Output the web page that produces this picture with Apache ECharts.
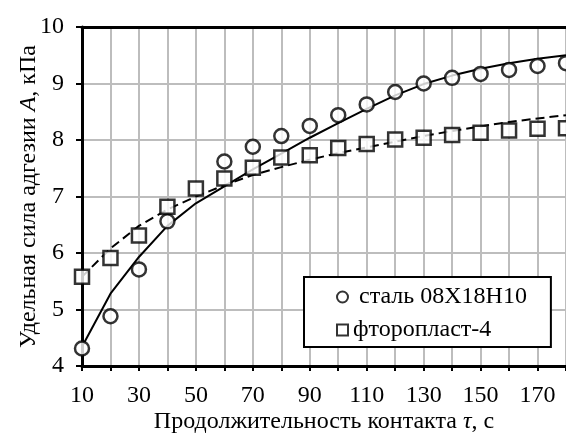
<!DOCTYPE html>
<html>
<head>
<meta charset="utf-8">
<script src="https://cdn.jsdelivr.net/npm/echarts@6/dist/echarts.min.js"></script>
<style>
  html, body { margin: 0; padding: 0; background: #fff; }
  #chart { width: 566px; height: 442px; }
</style>
</head>
<body>
<div id="chart"></div>
<script>
// время контакта, с
var tau = [10, 20, 30, 40, 50, 60, 70, 80, 90, 100, 110, 120, 130, 140, 150, 160, 170, 180];
// экспериментальные точки
var steel = [4.31, 4.88, 5.71, 6.56, null, 7.62, 7.88, 8.07, 8.25, 8.44, 8.63, 8.85, 9.0, 9.1, 9.17, 9.24, 9.31, 9.36];
var fluoro = [5.58, 5.91, 6.31, 6.82, 7.14, 7.32, 7.51, 7.69, 7.73, 7.86, 7.93, 8.01, 8.04, 8.09, 8.13, 8.17, 8.2, 8.21];
// аппроксимирующие кривые
var steelFit = [4.34, 5.28, 5.93, 6.48, 6.88, 7.18, 7.48, 7.76, 8.04, 8.3, 8.55, 8.79, 8.99, 9.14, 9.26, 9.36, 9.44, 9.5];
var fluoroFit = [5.58, 6.08, 6.48, 6.77, 7.0, 7.2, 7.38, 7.52, 7.65, 7.77, 7.87, 7.97, 8.07, 8.16, 8.24, 8.32, 8.38, 8.44];
var yTicks = [4, 5, 6, 7, 8, 9, 10];

var steelName = 'сталь 08Х18Н10';
var fluoroName = 'фторопласт-4';

function pairs(xs, ys) {
  var out = [];
  for (var i = 0; i < xs.length; i++) {
    if (ys[i] != null) out.push([xs[i], ys[i]]);
  }
  return out;
}

var font = 'Liberation Serif';
var fs = 24;
var myChart = echarts.init(document.getElementById('chart'));

var option = {
  animation: false,
  textStyle: { fontFamily: font },
  grid: { left: 82, top: 27, right: 0, bottom: 76, outerBoundsMode: 'none', containLabel: false },
  legend: {
    orient: 'vertical',
    left: 304,
    top: 277,
    padding: [8, 24, 5, 32],
    itemGap: 9,
    itemWidth: 11,
    itemHeight: 11,
    borderColor: '#000',
    borderWidth: 2,
    backgroundColor: '#fff',
    data: [steelName, fluoroName],
    formatter: function (n) { return n === steelName ? ' ' + n : n; },
    textStyle: { fontFamily: font, fontSize: fs, color: '#000' }
  },
  xAxis: [{
    type: 'value',
    min: 10,
    max: 180,
    interval: 10,
    name: '{n|Продолжительность контакта }{i|τ}{n|, с}',
    nameLocation: 'middle',
    nameGap: 44,
    nameMoveOverlap: false,
    nameTextStyle: {
      rich: {
        n: { fontFamily: font, fontSize: fs, color: '#000' },
        i: { fontFamily: font, fontSize: fs, fontStyle: 'italic', color: '#000' }
      }
    },
    axisLine: { lineStyle: { color: '#000', width: 3 } },
    axisTick: { show: true, length: 5, lineStyle: { color: '#000', width: 2 } },
    axisLabel: {
      margin: 18,
      fontFamily: font,
      fontSize: fs,
      color: '#000',
      formatter: function (v) { return (v - 10) % 20 === 0 ? String(v) : ''; }
    },
    splitLine: { show: true, lineStyle: { color: '#bdbdbd', width: 2 } }
  }, {
    type: 'value',
    position: 'top',
    min: 10,
    max: 180,
    interval: 10,
    axisLine: { onZero: false, lineStyle: { color: '#000', width: 3 } },
    axisTick: { show: false },
    axisLabel: { show: false },
    splitLine: { show: false }
  }],
  yAxis: {
    type: 'value',
    min: yTicks[0],
    max: yTicks[yTicks.length - 1],
    interval: 1,
    name: '{n|Удельная сила адгезии }{i|A}{n|, кПа}',
    nameLocation: 'middle',
    nameGap: 41,
    nameMoveOverlap: false,
    nameTextStyle: {
      rich: {
        n: { fontFamily: font, fontSize: fs, color: '#000' },
        i: { fontFamily: font, fontSize: fs, fontStyle: 'italic', color: '#000' }
      }
    },
    axisLine: { show: true, lineStyle: { color: '#000', width: 3 } },
    axisTick: { show: true, length: 6, lineStyle: { color: '#000', width: 2 } },
    axisLabel: { margin: 18, fontFamily: font, fontSize: fs, color: '#000' },
    splitLine: { show: true, lineStyle: { color: '#bdbdbd', width: 2 } }
  },
  series: [{
    name: 'fit steel',
    type: 'line',
    data: pairs(tau, steelFit),
    showSymbol: false,
    lineStyle: { color: '#000', width: 2 },
    z: 2
  }, {
    name: 'fit fluoro',
    type: 'line',
    data: pairs(tau, fluoroFit),
    showSymbol: false,
    lineStyle: { color: '#000', width: 2, type: [9, 5] },
    z: 2
  }, {
    name: steelName,
    type: 'scatter',
    data: pairs(tau, steel),
    symbol: 'circle',
    symbolSize: 14,
    itemStyle: { color: '#fff', borderColor: '#000', borderWidth: 2.5 },
    z: 3
  }, {
    name: fluoroName,
    type: 'scatter',
    data: pairs(tau, fluoro),
    symbol: 'rect',
    symbolSize: 14,
    itemStyle: { color: '#fff', borderColor: '#000', borderWidth: 2.5 },
    z: 3
  }]
};

myChart.setOption(option);
</script>
</body>
</html>
